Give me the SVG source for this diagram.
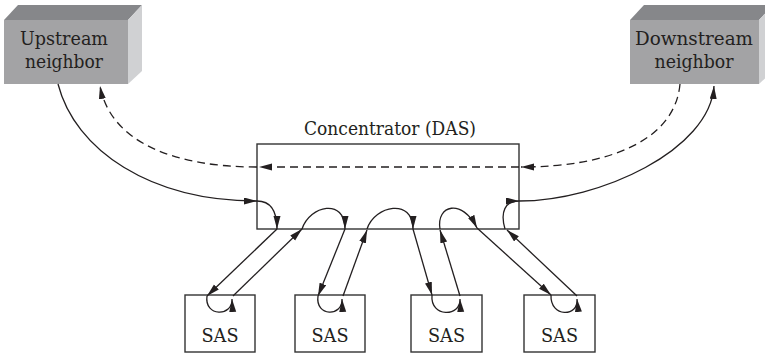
<svg xmlns="http://www.w3.org/2000/svg" width="765" height="354" viewBox="0 0 765 354">
<defs>
<style>
text{font-family:'DejaVu Serif',serif;fill:#231f20;text-anchor:middle}
.lbl{font-size:19px}
.big{font-size:19px}
.sas{font-size:19px}
.front{fill:#a3a3a5}
.top{fill:#86878a}
.side{fill:#d0d1d3}
.box{fill:#fff;stroke:#333;stroke-width:1.4}
.ln{fill:none;stroke:#231f20;stroke-width:1.3}
.dash{stroke-dasharray:8 5}
.arr{marker-end:url(#ah)}
</style>
<marker id="ah" markerUnits="userSpaceOnUse" markerWidth="14" markerHeight="8" refX="13" refY="3.5" orient="auto">
<path d="M0,0 L13,3.5 L0,7 Z" fill="#231f20"/>
</marker>
</defs>
<rect width="765" height="354" fill="#fff"/>

<g id="upstream">
<polygon class="top" points="4,20 18,5 142,5 128,20"/>
<polygon class="side" points="128,20 142,5 142,71 128,84"/>
<rect class="front" x="4" y="20" width="124" height="64"/>
<text class="big" x="64" y="45" textLength="88" lengthAdjust="spacingAndGlyphs">Upstream</text>
<text class="big" x="64" y="68" textLength="78" lengthAdjust="spacingAndGlyphs">neighbor</text>
</g>

<g id="downstream">
<polygon class="top" points="630,20 644,5 773,5 759,20"/>
<polygon class="side" points="759,20 773,5 773,71 759,84"/>
<rect class="front" x="630" y="20" width="129" height="64"/>
<text class="big" x="694" y="45" textLength="118" lengthAdjust="spacingAndGlyphs">Downstream</text>
<text class="big" x="694" y="68" textLength="79" lengthAdjust="spacingAndGlyphs">neighbor</text>
</g>

<g id="concentrator">
<rect class="box" x="257" y="144" width="262" height="85"/>
<text class="lbl" x="390" y="135" textLength="172" lengthAdjust="spacingAndGlyphs">Concentrator (DAS)</text>
</g>

<g id="sas1">
<rect class="box" x="185" y="295" width="70" height="57"/>
<text class="sas" x="220" y="342" textLength="37" lengthAdjust="spacingAndGlyphs">SAS</text>
</g>
<g id="sas2">
<rect class="box" x="295" y="295" width="70" height="57"/>
<text class="sas" x="330" y="342" textLength="37" lengthAdjust="spacingAndGlyphs">SAS</text>
</g>
<g id="sas3">
<rect class="box" x="411" y="295" width="71" height="57"/>
<text class="sas" x="446.5" y="342" textLength="37" lengthAdjust="spacingAndGlyphs">SAS</text>
</g>
<g id="sas4">
<rect class="box" x="524" y="295" width="71" height="57"/>
<text class="sas" x="559.5" y="342" textLength="37" lengthAdjust="spacingAndGlyphs">SAS</text>
</g>

<g id="connectors">
<!-- primary ring (solid) -->
<path class="ln arr" d="M58,84 C75,150 150,201 257,201"/>
<path class="ln arr" d="M257,201 C272,201 277,212 277,229"/>
<path class="ln arr" d="M277,229 L207,296"/>
<path class="ln arr" d="M207,296 C204,317 233,317 232,299"/>
<path class="ln arr" d="M233,296 L302,229"/>
<path class="ln arr" d="M302,229 C310,205 345,198 345,229"/>
<path class="ln arr" d="M345,229 L318,296"/>
<path class="ln arr" d="M318,296 C315,317 343,317 342,299"/>
<path class="ln arr" d="M343,296 L367,230"/>
<path class="ln arr" d="M367,229 C375,205 413,198 413,229"/>
<path class="ln arr" d="M413,229 L432,295"/>
<path class="ln arr" d="M432,295 C430,318 461,317 460,299"/>
<path class="ln arr" d="M460,296 L440,230"/>
<path class="ln arr" d="M440,229 C436,205 462,198 477,228"/>
<path class="ln arr" d="M477,228 L551,295"/>
<path class="ln arr" d="M551,295 C550,318 579,317 577,299"/>
<path class="ln arr" d="M577,296 L507,230"/>
<path class="ln arr" d="M505,229 C500,212 505,201 519,201"/>
<path class="ln arr" d="M519,201 C600,201 710,150 714,86"/>
<!-- secondary ring (dashed) -->
<path class="ln dash arr" d="M680,84 C675,140 610,167 521,167"/>
<path class="ln dash arr" d="M519,167 L259,167"/>
<path class="ln dash arr" d="M257,167 C170,167 110,140 100,86"/>
</g>
</svg>
